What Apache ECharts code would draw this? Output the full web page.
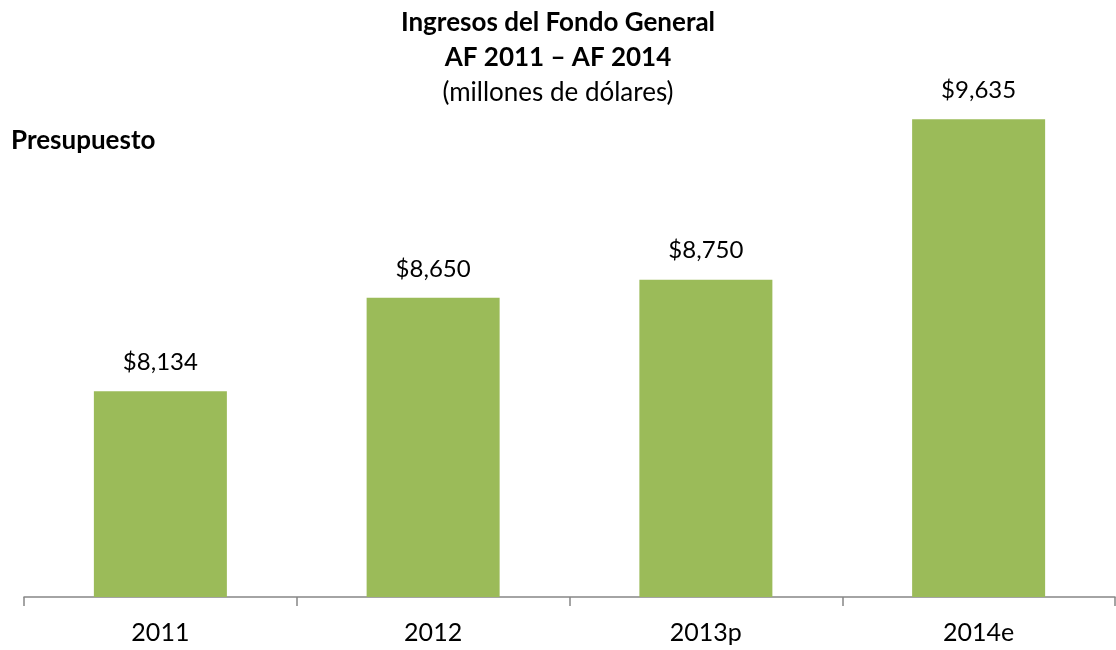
<!DOCTYPE html>
<html>
<head>
<meta charset="utf-8">
<style>
  html, body { margin: 0; padding: 0; background: #fff; }
  #chart { width: 1116px; height: 650px; }
</style>
<script src="https://cdn.jsdelivr.net/npm/echarts@6/dist/echarts.min.js"></script>
</head>
<body>
<div id="chart"></div>
<script>
// datos del gráfico
const categories = ["2011", "2012", "2013p", "2014e"];
const ingresos = [8134, 8650, 8750, 9635];

const font = "Lato, 'Open Sans', sans-serif";

const chart = echarts.init(document.getElementById("chart"));

const option = {
  animation: false,
  title: [
    {
      text: "Ingresos del Fondo General",
      left: "center",
      top: 5,
      textStyle: { fontFamily: font, fontSize: 26, fontWeight: "bold", color: "#000" },
    },
    {
      text: "AF 2011 \u2013 AF 2014",
      left: "center",
      top: 40,
      textStyle: { fontFamily: font, fontSize: 26, fontWeight: "bold", color: "#000" },
    },
    {
      text: "(millones de dólares)",
      left: "center",
      top: 75,
      textStyle: { fontFamily: font, fontSize: 26, fontWeight: "normal", color: "#000" },
    },
    {
      text: "Presupuesto",
      left: 6,
      top: 123,
      textStyle: { fontFamily: font, fontSize: 26, fontWeight: "bold", color: "#000" },
    },
  ],
  grid: {
    left: 24,
    right: 1,
    top: 53,
    bottom: 53,
  },
  xAxis: {
    type: "category",
    data: categories,
    axisLine: { lineStyle: { color: "#868686", width: 1.5 } },
    axisTick: { show: true, length: 9, lineStyle: { color: "#868686", width: 1.5 } },
    axisLabel: {
      fontFamily: font,
      fontSize: 25,
      color: "#000",
      margin: 23,
    },
  },
  yAxis: {
    type: "value",
    min: 7000,
    max: 10000,
    show: false,
    splitLine: { show: false },
  },
  series: [
    {
      type: "bar",
      data: ingresos,
      barWidth: 133,
      itemStyle: { color: "#9BBB59" },
      label: {
        show: true,
        position: "top",
        distance: 17,
        fontFamily: font,
        fontSize: 24,
        color: "#000",
        formatter: function (p) {
          return "$" + echarts.format.addCommas(p.value);
        },
      },
    },
  ],
};

chart.setOption(option);
</script>
</body>
</html>
